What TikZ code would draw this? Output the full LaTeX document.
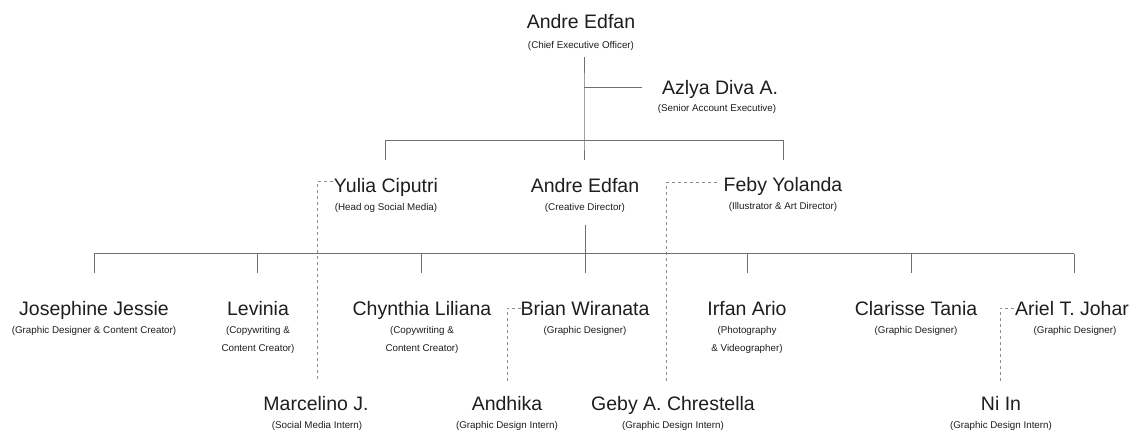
\documentclass[tikz,border=0pt]{standalone}
\usepackage{fontspec}
\setmainfont{Liberation Sans}
\definecolor{txt}{HTML}{1E1E1E}
\definecolor{lin}{HTML}{6E6E6E}
\definecolor{dlin}{HTML}{8C8C8C}
\begin{document}
\begin{tikzpicture}[x=1pt,y=-1pt,
  nm/.style={font=\fontsize{19.5}{21}\selectfont, text=txt, inner sep=0pt, anchor=base},
  tt/.style={font=\fontsize{9.8}{18}\selectfont, text=txt, inner sep=0pt, anchor=base, align=center},
  conn/.style={draw=lin, line width=1pt},
  dconn/.style={draw=dlin, line width=1pt, dash pattern=on 3pt off 3pt}]
\useasboundingbox[fill=white] (0,0) rectangle (1141,433);

% top
\node[nm] (ceo) at (581,29) {Andre Edfan};
\node[tt] (ceot) at (581,48.5) {(Chief Executive Officer)};
\node[nm] (azl) at (720,95) {Azlya Diva A.};
\node[tt] (azlt) at (717,111.5) {(Senior Account Executive)};

% row 2
\node[nm] (yul) at (386,192.5) {Yulia Ciputri};
\node[tt] (yult) at (386,210.5) {(Head og Social Media)};
\node[nm] (cd) at (585,192.5) {Andre Edfan};
\node[tt] (cdt) at (585,210.5) {(Creative Director)};
\node[nm] (feb) at (783,191.5) {Feby Yolanda};
\node[tt] (febt) at (783,209.5) {(Illustrator \& Art Director)};

% row 3 (two-line titles are placed by the baseline of their last line)
\node[nm] (jos) at (94,315) {Josephine Jessie};
\node[tt] (jost) at (94,333.5) {(Graphic Designer \& Content Creator)};
\node[nm] (lev) at (258,315) {Levinia};
\node[tt] (levt) at (258,351.5) {(Copywriting \&\\Content Creator)};
\node[nm] (chy) at (422,315) {Chynthia Liliana};
\node[tt] (chyt) at (422,351.5) {(Copywriting \&\\Content Creator)};
\node[nm] (bri) at (585,315) {Brian Wiranata};
\node[tt] (brit) at (585,333.5) {(Graphic Designer)};
\node[nm] (irf) at (747,315) {Irfan Ario};
\node[tt] (irft) at (747,351.5) {(Photography\\\& Videographer)};
\node[nm] (cla) at (916,315) {Clarisse Tania};
\node[tt] (clat) at (916,333.5) {(Graphic Designer)};
\node[nm] (ari) at (1072,315) {Ariel T. Johar};
\node[tt] (arit) at (1075,333.5) {(Graphic Designer)};

% row 4
\node[nm] (mar) at (316,410) {Marcelino J.};
\node[tt] (mart) at (317,428.5) {(Social Media Intern)};
\node[nm] (and) at (507,410) {Andhika};
\node[tt] (andt) at (507,428.5) {(Graphic Design Intern)};
\node[nm] (geb) at (673,410) {Geby A. Chrestella};
\node[tt] (gebt) at (673,428.5) {(Graphic Design Intern)};
\node[nm] (nii) at (1001,410) {Ni In};
\node[tt] (niit) at (1001,428.5) {(Graphic Design Intern)};

% junction coordinates
\coordinate (c0) at (584,57);
\coordinate (c1) at (584,88);
\coordinate (c1e) at (642,88);
\coordinate (c2) at (584,141);
\coordinate (c3) at (584,160);
\coordinate (yl) at (385,141);
\coordinate (ylb) at (385,160);
\coordinate (fr) at (783,141);
\coordinate (frb) at (783,160);

% solid connectors top
\draw[conn] (c0) -- (c1) -- (c2) -- (c3);
\draw[conn] (c1) -- (c1e);
\draw[conn] (ylb) -- (yl) -- (fr) -- (frb);

% creative director bus
\coordinate (d0) at (585,225);
\coordinate (d1) at (585,253.5);
\coordinate (bl) at (94,253.5);
\coordinate (br) at (1074,253.5);
\draw[conn] (d0) -- (d1);
\draw[conn] (bl) -- (br);
\foreach \x/\n in {94/jos,257/lev,421/chy,585/bri,747/irf,911/cla,1074/ari}{
  \coordinate (\n top) at (\x,273);
  \draw[conn] (\x,253.5) -- (\n top);
}

% dashed connectors
\coordinate (yd1) at (317,182);
\coordinate (yd2) at (317,381);
\draw[dconn] (333,182) -- (yd1) -- (yd2);
\coordinate (fd1) at (666,183);
\coordinate (fd2) at (666,381);
\draw[dconn] (717,183) -- (fd1) -- (fd2);
\coordinate (bd1) at (507,308);
\coordinate (bd2) at (507,381);
\draw[dconn] (521,308) -- (bd1) -- (bd2);
\coordinate (ad1) at (1000,308);
\coordinate (ad2) at (1000,381);
\draw[dconn] (1014,308) -- (ad1) -- (ad2);
\end{tikzpicture}
\end{document}
